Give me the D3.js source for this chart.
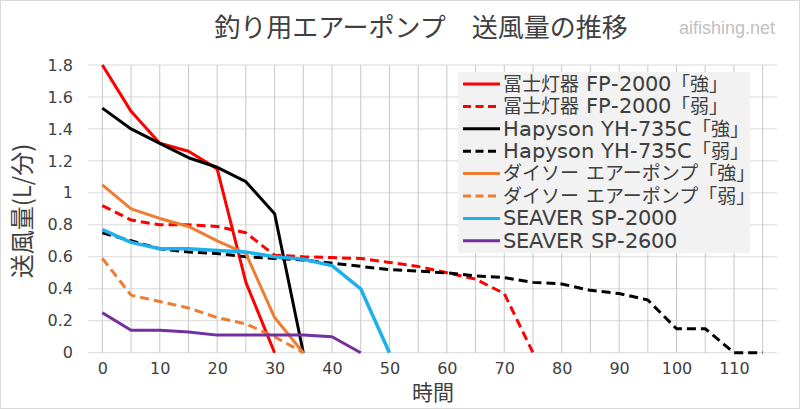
<!DOCTYPE html>
<html>
<head>
<meta charset="utf-8">
<script src="https://cdn.jsdelivr.net/npm/d3@7"></script>
<style>
  @font-face { font-family: "LatinWide"; src: local("DejaVu Sans"), local("DejaVuSans"); size-adjust: 112%; }
  body { margin: 0; background: #fff; }
  svg { display: block; font-family: "DejaVu Sans", "Noto Sans CJK JP", sans-serif; }
</style>
</head>
<body>
<div id="chart"></div>
<script>
// categories (minutes)
var times = [0, 5, 10, 15, 20, 25, 30, 35, 40, 45, 50, 55, 60, 65, 70, 75, 80, 85, 90, 95, 100, 105, 110, 115];
var xTickLabels = [0, 10, 20, 30, 40, 50, 60, 70, 80, 90, 100, 110];
var yTicks = [0, 0.2, 0.4, 0.6, 0.8, 1, 1.2, 1.4, 1.6, 1.8];

// series values, L/min, one per category from 0
var fujiStrong = [1.80, 1.51, 1.31, 1.26, 1.15, 0.44, 0];
var fujiWeak = [0.92, 0.83, 0.80, 0.80, 0.79, 0.75, 0.61, 0.60, 0.595, 0.59, 0.565, 0.54, 0.50, 0.46, 0.37, 0];
var hapyStrong = [1.53, 1.40, 1.31, 1.22, 1.16, 1.07, 0.87, 0];
var hapyWeak = [0.75, 0.70, 0.65, 0.63, 0.62, 0.60, 0.59, 0.58, 0.56, 0.54, 0.52, 0.51, 0.50, 0.48, 0.47, 0.44, 0.43, 0.39, 0.37, 0.33, 0.15, 0.15, 0, 0];
var daisoStrong = [1.05, 0.90, 0.84, 0.79, 0.70, 0.62, 0.22, 0];
var daisoWeak = [0.59, 0.36, 0.32, 0.28, 0.22, 0.18, 0.10, 0];
var sp2000 = [0.77, 0.69, 0.65, 0.65, 0.64, 0.63, 0.60, 0.585, 0.545, 0.40, 0];
var sp2600 = [0.25, 0.14, 0.14, 0.13, 0.11, 0.11, 0.11, 0.11, 0.10, 0];

var seriesNames = ["冨士灯器 FP-2000「強」", "冨士灯器 FP-2000「弱」", "Hapyson YH-735C「強」", "Hapyson YH-735C「弱」",
  "ダイソー エアーポンプ「強」", "ダイソー エアーポンプ「弱」", "SEAVER SP-2000", "SEAVER SP-2600"];
var seriesValues = [fujiStrong, fujiWeak, hapyStrong, hapyWeak, daisoStrong, daisoWeak, sp2000, sp2600];
var seriesColors = ["#ff0000", "#ff0000", "#000000", "#000000", "#ed7d31", "#ed7d31", "#1cb0ec", "#7030a0"];
var seriesDashed = [false, true, false, true, false, true, false, false];

var width = 800, height = 409;
var plotLeft = 88, plotRight = 777, plotTop = 65, plotBottom = 352.7;

var svg = d3.select("#chart").append("svg").attr("width", width).attr("height", height);

svg.append("rect").attr("x", 0.5).attr("y", 0.5).attr("width", width - 1).attr("height", height - 1)
  .attr("fill", "#fff").attr("stroke", "#d9d9d9");

var x = d3.scalePoint().domain(times).range([plotLeft, plotRight]).padding(0.5);
var y = d3.scaleLinear().domain([0, 1.8]).range([plotBottom, plotTop]);

// gridlines
svg.append("g").selectAll("line").data(yTicks).enter().append("line")
  .attr("x1", plotLeft).attr("x2", plotRight)
  .attr("y1", function (d) { return y(d); }).attr("y2", function (d) { return y(d); })
  .attr("stroke", "#d9d9d9").attr("stroke-width", 1);
svg.append("g").selectAll("line").data(times).enter().append("line")
  .attr("x1", function (d) { return x(d); }).attr("x2", function (d) { return x(d); })
  .attr("y1", plotTop).attr("y2", plotBottom)
  .attr("stroke", "#c8c8c8").attr("stroke-width", 1);

// axes (labels only)
var yAxis = svg.append("g").attr("transform", "translate(" + plotLeft + ",0)")
  .call(d3.axisLeft(y).tickValues(yTicks).tickSize(0).tickPadding(15).tickFormat(d3.format("~g")));
var xAxis = svg.append("g").attr("transform", "translate(0," + plotBottom + ")")
  .call(d3.axisBottom(x).tickValues(xTickLabels).tickSize(0).tickPadding(10));
[yAxis, xAxis].forEach(function (a) {
  a.select(".domain").remove();
  a.selectAll("text").attr("fill", "#404040").style("font-size", "16px")
    .style("font-family", "'DejaVu Sans', sans-serif");
});

// lines
var line = d3.line()
  .x(function (d, i) { return x(times[i]); })
  .y(function (d) { return y(d); });

seriesValues.forEach(function (vals, i) {
  svg.append("path")
    .attr("d", line(vals))
    .attr("fill", "none")
    .attr("stroke", seriesColors[i])
    .attr("stroke-width", i === 6 ? 3.5 : 3)
    .attr("stroke-linejoin", "round")
    .attr("stroke-dasharray", seriesDashed[i] ? "9,5" : null);
});

// legend
var legend = svg.append("g");
legend.append("rect").attr("x", 458).attr("y", 72).attr("width", 292).attr("height", 181).attr("fill", "#f2f2f2");
seriesNames.forEach(function (name, i) {
  var cy = 84 + i * 22.4;
  legend.append("line").attr("x1", 463).attr("x2", 500).attr("y1", cy).attr("y2", cy)
    .attr("stroke", seriesColors[i]).attr("stroke-width", 3)
    .attr("stroke-dasharray", seriesDashed[i] ? "8,4.5" : null);
  legend.append("text").attr("x", 503).attr("y", cy).attr("dy", "0.36em")
    .attr("fill", "#404040").style("font-size", "19px")
    .style("font-family", "LatinWide, 'DejaVu Sans', 'Noto Sans CJK JP', sans-serif")
    .text(name);
});

// titles
svg.append("text").attr("x", 421).attr("y", 37).attr("text-anchor", "middle")
  .attr("fill", "#404040").style("font-size", "26px").style("font-family", "'Noto Sans CJK JP', sans-serif")
  .text("釣り用エアーポンプ\u3000送風量の推移");
svg.append("text").attr("x", 775).attr("y", 34).attr("text-anchor", "end")
  .attr("fill", "#c0c0c0").style("font-size", "18px").style("font-family", "'Liberation Sans', sans-serif")
  .text("aifishing.net");
svg.append("text").attr("transform", "translate(31,211) rotate(-90)").attr("text-anchor", "middle")
  .attr("fill", "#404040").style("font-size", "24px").style("font-family", "'Noto Sans CJK JP', sans-serif")
  .text("送風量(L/分)");
svg.append("text").attr("x", 433).attr("y", 400).attr("text-anchor", "middle")
  .attr("fill", "#404040").style("font-size", "21px").style("font-family", "'Noto Sans CJK JP', sans-serif")
  .text("時間");
</script>
</body>
</html>
